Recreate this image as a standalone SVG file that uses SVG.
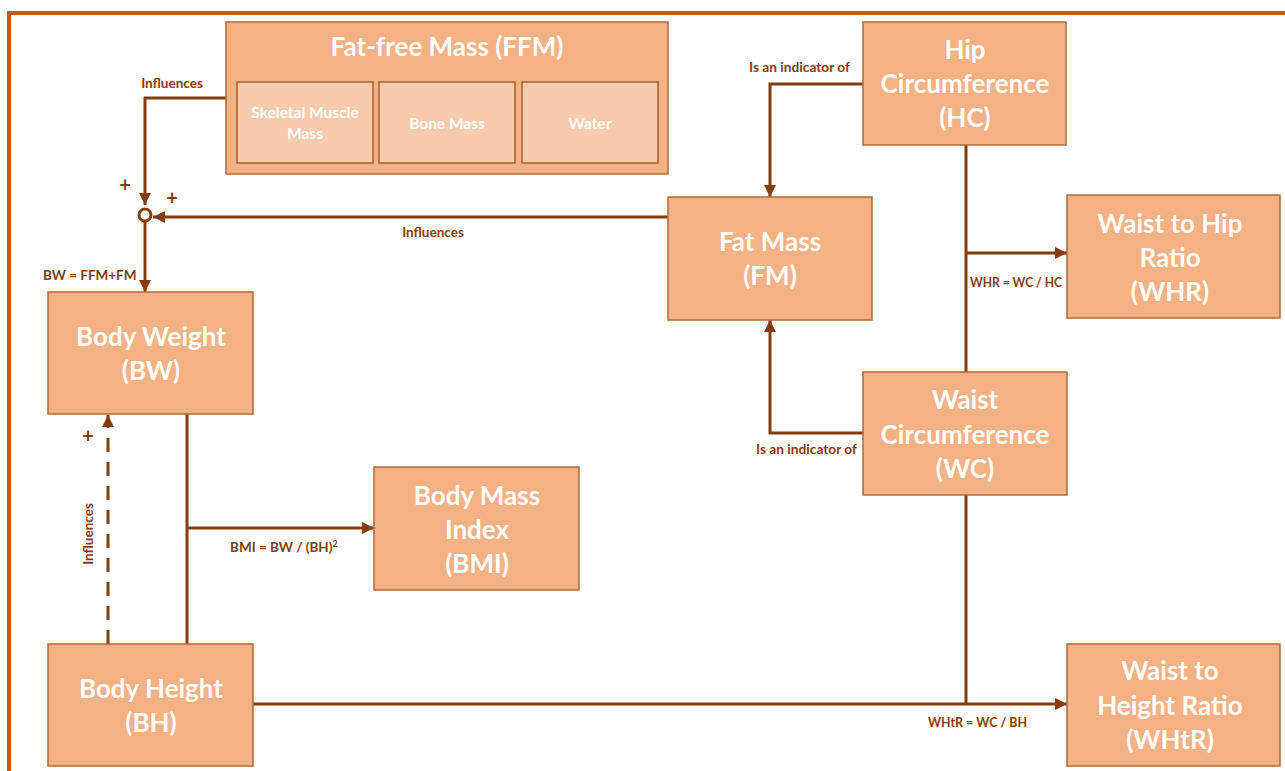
<svg xmlns="http://www.w3.org/2000/svg" width="1285" height="771" viewBox="0 0 1285 771">
  <defs>
    <style>
      .box { fill: #F4B183; stroke: #B0693A; stroke-width: 1.5; }
      .sub { fill: #F8CBAD; stroke: #A65F30; stroke-width: 1.5; }
      .t { font-family: Lato, "Open Sans", "Liberation Sans", sans-serif; font-weight: bold; fill: #FFFFFF; text-anchor: middle; }
      .big { font-size: 26px; }
      .small { font-size: 15.5px; }
      .lbl { font-family: Lato, "Open Sans", "Liberation Sans", sans-serif; font-weight: bold; fill: #843C0C; font-size: 13.5px; }
      .plus { font-family: Lato, "Liberation Sans", sans-serif; font-weight: bold; fill: #843C0C; font-size: 20px; text-anchor: middle; }
      .wire { fill: none; stroke: #843C0C; stroke-width: 3; }
    </style>
    <marker id="arrow" viewBox="0 0 10 10" refX="10" refY="5" markerWidth="12" markerHeight="12" markerUnits="userSpaceOnUse" orient="auto">
      <path d="M0,0 L10,5 L0,10 z" fill="#843C0C"/>
    </marker>
  </defs>

  <rect width="1285" height="771" fill="#FFFFFF"/>
  <!-- outer frame -->
  <rect x="9" y="13" width="1290" height="770" fill="none" stroke="#C55A11" stroke-width="4"/>

  <!-- connectors -->
  <g id="connectors">
    <path class="wire" d="M226,98 H145 V205" marker-end="url(#arrow)"/>
    <path class="wire" d="M668,217 H153" marker-end="url(#arrow)"/>
    <circle cx="145" cy="215" r="6" fill="#FFFFFF" stroke="#843C0C" stroke-width="3"/>
    <path class="wire" d="M145,221 V292" marker-end="url(#arrow)"/>
    <path class="wire" d="M863,84 H770 V197" marker-end="url(#arrow)"/>
    <path class="wire" d="M863,433 H770 V320" marker-end="url(#arrow)"/>
    <path class="wire" d="M966,145 V372"/>
    <path class="wire" d="M966,253 H1067" marker-end="url(#arrow)"/>
    <path class="wire" d="M966,495 V704"/>
    <path class="wire" d="M253,704 H1067" stroke-width="4" marker-end="url(#arrow)"/>
    <path class="wire" d="M187,414 V644"/>
    <path class="wire" d="M187,528 H374" marker-end="url(#arrow)"/>
    <path class="wire" d="M108,644 V415" stroke-dasharray="14,10" marker-end="url(#arrow)"/>

    <text class="lbl" x="172" y="88" text-anchor="middle">Influences</text>
    <text class="plus" x="125" y="192">+</text>
    <text class="plus" x="172" y="205">+</text>
    <text class="lbl" x="433" y="237" text-anchor="middle">Influences</text>
    <text class="lbl" x="43" y="280">BW = FFM+FM</text>
    <text class="lbl" x="749" y="72" textLength="101" lengthAdjust="spacingAndGlyphs">Is an indicator of</text>
    <text class="lbl" x="756" y="454" textLength="101" lengthAdjust="spacingAndGlyphs">Is an indicator of</text>
    <text class="lbl" x="970" y="287" textLength="92" lengthAdjust="spacingAndGlyphs">WHR = WC / HC</text>
    <text class="lbl" x="230" y="552">BMI = BW / (BH)<tspan font-size="9" dy="-5">2</tspan></text>
    <text class="lbl" x="928" y="727" textLength="99" lengthAdjust="spacingAndGlyphs">WHtR = WC / BH</text>
    <text class="plus" x="88" y="443">+</text>
    <text class="lbl" transform="translate(93,534) rotate(-90)" text-anchor="middle">Influences</text>
  </g>

  <!-- nodes -->
  <g id="ffm">
    <rect class="box" x="226" y="22" width="442" height="152"/>
    <text class="t big" x="447" y="56">Fat-free Mass (FFM)</text>
    <g id="ffm-muscle">
      <rect class="sub" x="237" y="82" width="136" height="81"/>
      <text class="t small" x="305" y="118">Skeletal Muscle</text>
      <text class="t small" x="305" y="139">Mass</text>
    </g>
    <g id="ffm-bone">
      <rect class="sub" x="379" y="82" width="136" height="81"/>
      <text class="t small" x="447" y="129">Bone Mass</text>
    </g>
    <g id="ffm-water">
      <rect class="sub" x="522" y="82" width="136" height="81"/>
      <text class="t small" x="590" y="129">Water</text>
    </g>
  </g>

  <g id="hc">
    <rect class="box" x="863" y="22" width="203" height="123"/>
    <text class="t big" x="965" y="59">Hip</text>
    <text class="t big" x="965" y="93">Circumference</text>
    <text class="t big" x="965" y="127">(HC)</text>
  </g>

  <g id="fm">
    <rect class="box" x="668" y="197" width="204" height="123"/>
    <text class="t big" x="770" y="251">Fat Mass</text>
    <text class="t big" x="770" y="285">(FM)</text>
  </g>

  <g id="whr">
    <rect class="box" x="1067" y="195" width="213" height="123"/>
    <text class="t big" x="1170" y="233">Waist to Hip</text>
    <text class="t big" x="1170" y="267">Ratio</text>
    <text class="t big" x="1170" y="301">(WHR)</text>
  </g>

  <g id="wc">
    <rect class="box" x="863" y="372" width="204" height="123"/>
    <text class="t big" x="965" y="409">Waist</text>
    <text class="t big" x="965" y="444">Circumference</text>
    <text class="t big" x="965" y="478">(WC)</text>
  </g>

  <g id="bw">
    <rect class="box" x="48" y="292" width="205" height="122"/>
    <text class="t big" x="151" y="346">Body Weight</text>
    <text class="t big" x="151" y="380">(BW)</text>
  </g>

  <g id="bmi">
    <rect class="box" x="374" y="467" width="205" height="123"/>
    <text class="t big" x="477" y="505">Body Mass</text>
    <text class="t big" x="477" y="539">Index</text>
    <text class="t big" x="477" y="573">(BMI)</text>
  </g>

  <g id="bh">
    <rect class="box" x="48" y="644" width="205" height="122"/>
    <text class="t big" x="151" y="698">Body Height</text>
    <text class="t big" x="151" y="732">(BH)</text>
  </g>

  <g id="whtr">
    <rect class="box" x="1067" y="644" width="213" height="122"/>
    <text class="t big" x="1170" y="680">Waist to</text>
    <text class="t big" x="1170" y="715">Height Ratio</text>
    <text class="t big" x="1170" y="749">(WHtR)</text>
  </g>
</svg>
